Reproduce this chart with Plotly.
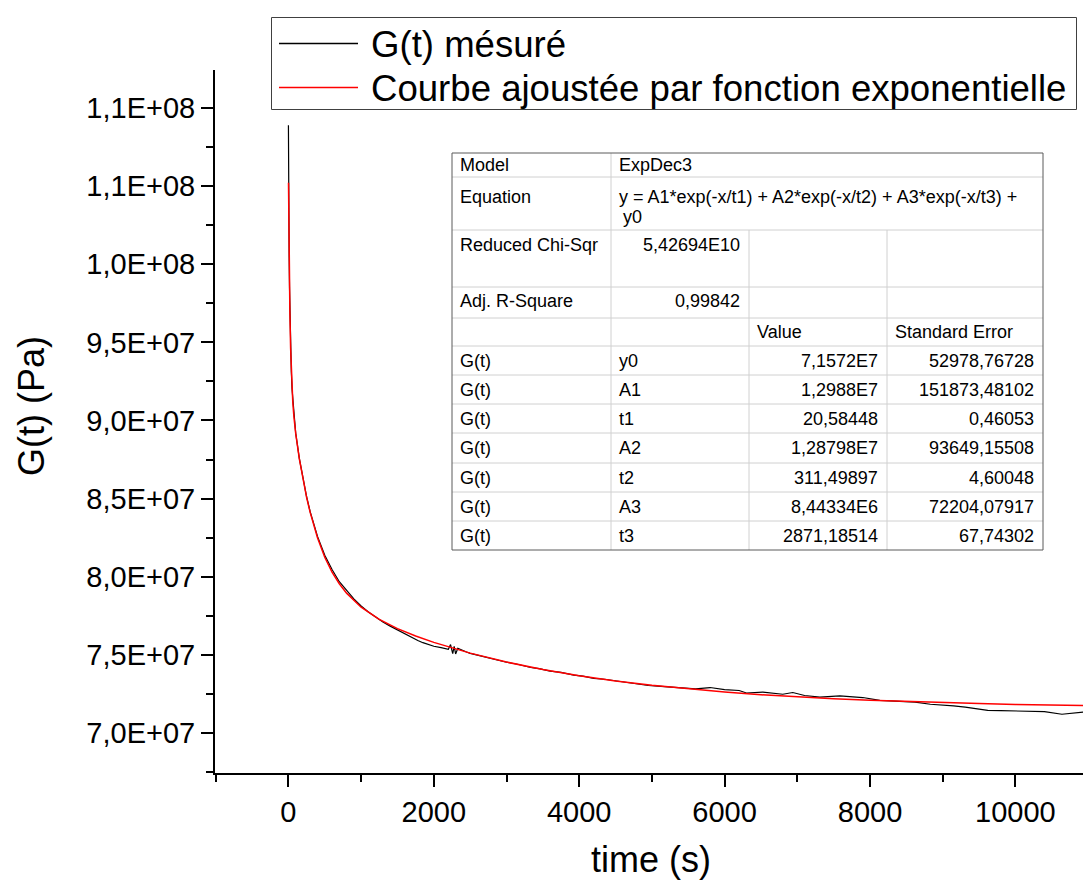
import plotly.graph_objects as go

# ---------------- data ----------------
time_measured = [0, 1, 3, 5, 10, 15, 20, 30, 40, 50, 75, 100, 150, 200, 250, 300, 400, 500, 600, 700,
                 800, 900, 1000, 1100, 1200, 1300, 1400, 1535, 1620, 1700, 1780, 1850, 1930, 2000, 2100,
                 2200, 2230, 2260, 2280, 2300, 2330, 2380, 2450, 2500, 2600, 2731, 2850, 3000, 3150, 3332,
                 3450, 3600, 3750, 3927, 4050, 4200, 4350, 4530, 4650, 4800, 4950, 5124, 5250, 5400, 5600,
                 5800, 6000, 6200, 6300, 6526, 6800, 6938, 7100, 7310, 7585, 7901, 8135, 8410, 8620, 8830,
                 9000, 9150, 9310, 9450, 9620, 9800, 10000, 10220, 10400, 10640, 10800, 10950]
G_measured = [108.9e6, 105.1e6, 103.9e6, 102.8e6, 100.5e6, 98.55e6, 97.0e6, 94.7e6, 93.1e6, 92.0e6,
              90.3e6, 89.2e6, 87.58e6, 86.25e6, 85.12e6, 84.15e6, 82.58e6, 81.38e6, 80.46e6, 79.68e6,
              79.10e6, 78.58e6, 78.13e6, 77.74e6, 77.43e6, 77.10e6, 76.84e6, 76.50e6, 76.30e6, 76.12e6,
              75.92e6, 75.78e6, 75.66e6, 75.55e6, 75.46e6, 75.36e6, 75.66e6, 75.08e6, 75.55e6, 75.06e6,
              75.42e6, 75.30e6, 75.18e6, 75.10e6, 74.98e6, 74.86e6, 74.73e6, 74.53e6, 74.40e6, 74.19e6,
              74.12e6, 73.96e6, 73.88e6, 73.70e6, 73.64e6, 73.50e6, 73.44e6, 73.31e6, 73.25e6, 73.16e6,
              73.04e6, 72.99e6, 72.94e6, 72.88e6, 72.83e6, 72.91e6, 72.78e6, 72.72e6, 72.56e6, 72.62e6,
              72.48e6, 72.59e6, 72.40e6, 72.30e6, 72.37e6, 72.27e6, 72.09e6, 72.03e6, 71.98e6, 71.84e6,
              71.80e6, 71.74e6, 71.66e6, 71.56e6, 71.45e6, 71.43e6, 71.40e6, 71.39e6, 71.37e6, 71.20e6,
              71.28e6, 71.34e6]

time_fit = [1, 2, 3, 5, 7, 10, 15, 20, 30, 40, 50, 60, 75, 100, 150, 200, 250, 300, 400, 500, 600, 700,
            800, 1000, 1250, 1500, 1750, 2000, 2500, 3000, 3500, 4000, 4500, 5000, 5500, 6000, 6500,
            7000, 7500, 8000, 8500, 9000, 9500, 10000, 10500, 11000]
G_fit = [105.22e6, 104.59e6, 103.99e6, 102.86e6, 101.83e6, 100.45e6, 98.51e6, 96.95e6, 94.65e6, 93.09e6,
         91.98e6, 91.17e6, 90.26e6, 89.17e6, 87.55e6, 86.23e6, 85.08e6, 84.10e6, 82.49e6, 81.25e6,
         80.30e6, 79.55e6, 78.95e6, 78.05e6, 77.27e6, 76.68e6, 76.21e6, 75.80e6, 75.11e6, 74.54e6,
         74.07e6, 73.67e6, 73.33e6, 73.05e6, 72.82e6, 72.62e6, 72.45e6, 72.31e6, 72.19e6, 72.09e6,
         72.01e6, 71.94e6, 71.88e6, 71.83e6, 71.79e6, 71.76e6]

series_names = ["G(t) mésuré", "Courbe ajoustée par fonction exponentielle"]
series_colors = ["rgb(0,0,0)", "rgb(255,0,0)"]

y_tick_vals = [7.0e7, 7.5e7, 8.0e7, 8.5e7, 9.0e7, 9.5e7, 1.0e8, 1.05e8, 1.1e8]
y_tick_text = ["7,0E+07", "7,5E+07", "8,0E+07", "8,5E+07", "9,0E+07", "9,5E+07",
               "1,0E+08", "1,1E+08", "1,1E+08"]
x_tick_vals = [0, 2000, 4000, 6000, 8000, 10000]
x_tick_text = ["0", "2000", "4000", "6000", "8000", "10000"]

x_title = "time (s)"
y_title = "G(t) (Pa)"

# fit report table
table_model = ["Model", "ExpDec3"]
table_equation = ["Equation", "y = A1*exp(-x/t1) + A2*exp(-x/t2) + A3*exp(-x/t3) +", "y0"]
table_chi = ["Reduced Chi-Sqr", "5,42694E10"]
table_r2 = ["Adj. R-Square", "0,99842"]
table_header = ["Value", "Standard Error"]
param_series = ["G(t)"] * 7
param_names = ["y0", "A1", "t1", "A2", "t2", "A3", "t3"]
param_values = ["7,1572E7", "1,2988E7", "20,58448", "1,28798E7", "311,49897", "8,44334E6", "2871,18514"]
param_errors = ["52978,76728", "151873,48102", "0,46053", "93649,15508", "4,60048", "72204,07917", "67,74302"]

# ---------------- layout geometry ----------------
W, H = 1083, 882
L, R, T, B = 215, 1083, 70, 773
FONT = "Liberation Sans, Arial, sans-serif"


def X(px):
    return (px - L) / (R - L)


def Y(py):
    return (B - py) / (B - T)


fig = go.Figure()
fig.add_trace(go.Scatter(x=time_measured, y=G_measured, mode="lines", name=series_names[0],
                         line=dict(color=series_colors[0], width=1.2), showlegend=False))
fig.add_trace(go.Scatter(x=time_fit, y=G_fit, mode="lines", name=series_names[1],
                         line=dict(color=series_colors[1], width=1.5), showlegend=False))

shapes = []
annotations = []

# ---- legend box (drawn to match the original's spacing) ----
shapes.append(dict(type="rect", xref="paper", yref="paper", x0=X(271.5), x1=X(1076.5),
                   y0=Y(17.5), y1=Y(109.5), fillcolor="white", line=dict(color="#404040", width=1),
                   layer="above"))
for i in range(len(series_names)):
    ly = 43.5 + 44 * i
    shapes.append(dict(type="line", xref="paper", yref="paper", x0=X(279), x1=X(358),
                       y0=Y(ly), y1=Y(ly), line=dict(color=series_colors[i], width=1.3),
                       layer="above"))
    annotations.append(dict(text=series_names[i], xref="paper", yref="paper", x=X(369), y=Y(ly + 1),
                            showarrow=False, xanchor="left", yanchor="middle",
                            font=dict(family=FONT, size=36.6, color="black")))

# ---- fit table ----
col_x = [452, 611, 749, 887, 1043]
row_y = [153, 177, 230, 287, 318, 346, 375, 404, 433, 463, 492, 521, 550]
inner = "#d0d0d0"
outer = "#5a5a5a"
shapes.append(dict(type="rect", xref="paper", yref="paper", x0=X(col_x[0]), x1=X(col_x[-1]),
                   y0=Y(row_y[0]), y1=Y(row_y[-1]), fillcolor="white", line=dict(width=0), layer="above"))
for ry in row_y[1:-1]:
    shapes.append(dict(type="line", xref="paper", yref="paper", x0=X(col_x[0]), x1=X(col_x[-1]),
                       y0=Y(ry), y1=Y(ry), line=dict(color=inner, width=1)))
shapes.append(dict(type="line", xref="paper", yref="paper", x0=X(col_x[1]), x1=X(col_x[1]),
                   y0=Y(row_y[0]), y1=Y(row_y[-1]), line=dict(color=inner, width=1)))
for cx in col_x[2:4]:
    shapes.append(dict(type="line", xref="paper", yref="paper", x0=X(cx), x1=X(cx),
                       y0=Y(row_y[2]), y1=Y(row_y[-1]), line=dict(color=inner, width=1)))
shapes.append(dict(type="rect", xref="paper", yref="paper", x0=X(col_x[0]), x1=X(col_x[-1]),
                   y0=Y(row_y[0]), y1=Y(row_y[-1]), line=dict(color=outer, width=1)))

TF = dict(family=FONT, size=18, color="black")


def txt(s, px, py, anchor="left"):
    annotations.append(dict(text=s, xref="paper", yref="paper", x=X(px), y=Y(py), showarrow=False,
                            xanchor=anchor, yanchor="middle", font=TF))


lx, vx = col_x[0] + 6, col_x[1] + 6
txt(table_model[0], lx, 165)
txt(table_model[1], vx, 165)
txt(table_equation[0], lx, 197)
txt(table_equation[1], vx, 197)
txt(table_equation[2], vx + 4, 217)
txt(table_chi[0], lx, 245)
txt(table_chi[1], col_x[2] - 7, 245, "right")
txt(table_r2[0], lx, 301)
txt(table_r2[1], col_x[2] - 7, 301, "right")
txt(table_header[0], col_x[2] + 6, 332)
txt(table_header[1], col_x[3] + 6, 332)
for i in range(len(param_names)):
    cy = (row_y[5 + i] + row_y[6 + i]) / 2
    txt(param_series[i], lx, cy)
    txt(param_names[i], vx, cy)
    txt(param_values[i], col_x[3] - 7, cy, "right")
    txt(param_errors[i], col_x[4] - 7, cy, "right")

# ---- axis titles ----
annotations.append(dict(text=y_title, xref="paper", yref="paper", x=X(31), y=Y(406), showarrow=False,
                        textangle=-90, xanchor="center", yanchor="middle",
                        font=dict(family=FONT, size=36, color="black")))
annotations.append(dict(text=x_title, xref="paper", yref="paper", x=X(651), y=Y(860), showarrow=False,
                        xanchor="center", yanchor="middle",
                        font=dict(family=FONT, size=36, color="black")))

fig.update_layout(
    width=W, height=H,
    margin=dict(l=L, r=W - R, t=T, b=H - B, pad=0),
    paper_bgcolor="white", plot_bgcolor="white",
    font=dict(family=FONT, color="black"),
    showlegend=False,
    shapes=shapes,
    annotations=annotations,
    xaxis=dict(range=[-1010, 10930], showgrid=False, zeroline=False,
               showline=True, linecolor="black", linewidth=2,
               tickmode="array", tickvals=x_tick_vals, ticktext=x_tick_text,
               ticks="outside", ticklen=12, tickwidth=2, tickcolor="black",
               tickfont=dict(family=FONT, size=29, color="black"),
               minor=dict(ticks="outside", ticklen=7, tickwidth=2, tickcolor="black",
                          tickmode="linear", tick0=0, dtick=1000)),
    yaxis=dict(range=[6.744e7, 1.1243e8], showgrid=False, zeroline=False,
               showline=True, linecolor="black", linewidth=2,
               tickmode="array", tickvals=y_tick_vals, ticktext=y_tick_text,
               ticks="outside", ticklen=12, tickwidth=2, tickcolor="black",
               tickfont=dict(family=FONT, size=29, color="black"),
               minor=dict(ticks="outside", ticklen=7, tickwidth=2, tickcolor="black",
                          tickmode="linear", tick0=0, dtick=2.5e6)),
)

fig.write_html("out.html", config={"displayModeBar": False},
               post_script="document.body.style.margin='0';")
